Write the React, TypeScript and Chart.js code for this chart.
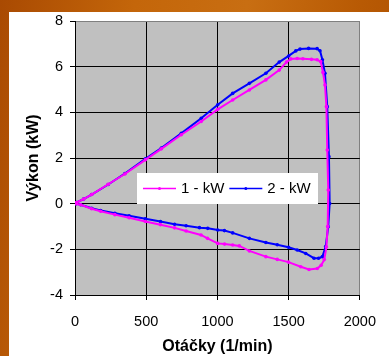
import React, { useEffect, useRef } from "react";
import { Chart, registerables } from "chart.js";

Chart.register(...registerables);

const seriesNames = ["1 - kW", "2 - kW"];
const seriesColors = ["#FF00FF", "#0000FF"];

const s1X = [10, 60, 117, 233, 350, 494, 606, 746, 886, 1002, 1107, 1224, 1340, 1434, 1485, 1515, 1560, 1600, 1660, 1700, 1725, 1741, 1755, 1765, 1771, 1778, 1774, 1765, 1750, 1728, 1701, 1643, 1585, 1499, 1420, 1340, 1224, 1154, 1107, 1050, 1002, 930, 885, 780, 699, 600, 494, 380, 280, 180, 117, 40, 10];
const s1Y = [0.05, 0.2, 0.4, 0.85, 1.3, 1.92, 2.4, 3.02, 3.6, 4.13, 4.54, 4.98, 5.42, 5.85, 6.2, 6.34, 6.36, 6.35, 6.32, 6.3, 6.22, 5.75, 5.2, 4.25, 2.35, 0.6, -1.0, -1.9, -2.45, -2.7, -2.84, -2.88, -2.76, -2.56, -2.44, -2.32, -2.07, -1.85, -1.81, -1.77, -1.74, -1.52, -1.37, -1.2, -1.06, -0.92, -0.78, -0.62, -0.48, -0.33, -0.22, -0.05, 0];

const s2X = [10, 60, 117, 233, 350, 494, 606, 746, 886, 1002, 1107, 1224, 1340, 1434, 1500, 1550, 1580, 1640, 1700, 1720, 1737, 1755, 1771, 1783, 1788, 1778, 1760, 1737, 1710, 1678, 1620, 1560, 1499, 1420, 1340, 1224, 1107, 1049, 1002, 932, 874, 780, 699, 600, 494, 380, 280, 180, 117, 40, 10];
const s2Y = [0.05, 0.2, 0.4, 0.84, 1.32, 1.96, 2.44, 3.08, 3.74, 4.33, 4.83, 5.27, 5.71, 6.2, 6.47, 6.69, 6.77, 6.8, 6.79, 6.7, 6.3, 5.71, 4.25, 2.06, 0.01, -1.01, -1.88, -2.32, -2.39, -2.39, -2.18, -2.03, -1.91, -1.8, -1.7, -1.52, -1.28, -1.18, -1.15, -1.08, -1.05, -0.97, -0.9, -0.78, -0.66, -0.53, -0.42, -0.3, -0.2, -0.05, 0];

const xTicks = [0, 500, 1000, 1500, 2000];
const yTicks = [-4, -2, 0, 2, 4, 6, 8];

const xTitle = "Otáčky (1/min)";
const yTitle = "Výkon (kW)";

const FONT = "'Liberation Sans', Arial, sans-serif";

const plotBgPlugin = {
  id: "plotBg",
  beforeDraw(chart: any) {
    const { ctx, chartArea } = chart;
    ctx.save();
    ctx.fillStyle = "#C0C0C0";
    ctx.fillRect(chartArea.left, chartArea.top, chartArea.right - chartArea.left, chartArea.bottom - chartArea.top);
    ctx.restore();
  },
};

const legendBoxPlugin = {
  id: "legendBox",
  afterDraw(chart: any) {
    const { ctx, chartArea } = chart;
    const left = chartArea.left + 62;
    const top = chartArea.top + 152;
    const w = 181;
    const h = 31;
    ctx.save();
    ctx.fillStyle = "#FFFFFF";
    ctx.fillRect(left, top, w, h);
    ctx.font = `15px ${FONT}`;
    ctx.textBaseline = "middle";
    const cy = top + 15.5;
    let x = left + 6;
    chart.data.datasets.forEach((ds: any) => {
      ctx.strokeStyle = ds.borderColor;
      ctx.lineWidth = 1.5;
      ctx.beginPath();
      ctx.moveTo(x, cy);
      ctx.lineTo(x + 33, cy);
      ctx.stroke();
      ctx.fillStyle = ds.borderColor;
      ctx.beginPath();
      ctx.arc(x + 16.5, cy, 1.5, 0, Math.PI * 2);
      ctx.fill();
      ctx.fillStyle = "#000";
      ctx.fillText(ds.label, x + 38, cy);
      x += 38 + ctx.measureText(ds.label).width + 5;
    });
    ctx.restore();
  },
};

export default function App() {
  const ref = useRef<HTMLCanvasElement | null>(null);

  useEffect(() => {
    document.body.style.margin = "0";
    const canvas = ref.current;
    if (!canvas) return;
    const mk = (xs: number[], ys: number[]) => xs.map((x, i) => ({ x, y: ys[i] }));
    const chart = new Chart(canvas, {
      type: "scatter",
      data: {
        datasets: [
          {
            label: seriesNames[0],
            data: mk(s1X, s1Y),
            borderColor: seriesColors[0],
            backgroundColor: seriesColors[0],
            showLine: true,
            borderWidth: 2,
            pointRadius: 1.8,
            pointBorderWidth: 0,
            tension: 0,
          },
          {
            label: seriesNames[1],
            data: mk(s2X, s2Y),
            borderColor: seriesColors[1],
            backgroundColor: seriesColors[1],
            showLine: true,
            borderWidth: 2,
            pointRadius: 1.8,
            pointBorderWidth: 0,
            tension: 0,
          },
        ],
      },
      options: {
        responsive: false,
        animation: false,
        layout: { padding: { top: 21, right: 28, left: 0, bottom: 0 } },
        plugins: {
          legend: { display: false },
          tooltip: { enabled: false },
        },
        scales: {
          x: {
            type: "linear",
            min: 0,
            max: 2000,
            afterFit(scale: any) {
              scale.height = 61;
            },
            afterBuildTicks(scale: any) {
              scale.ticks = xTicks.map((v) => ({ value: v }));
            },
            ticks: {
              color: "#000",
              font: { family: FONT, size: 14.5 },
              padding: 13,
              maxRotation: 0,
              callback: (v: any) => String(v),
            },
            grid: {
              color: (c: any) => (c.tick && c.tick.value === 2000 ? "#808080" : "#000"),
              tickColor: "#000",
              tickLength: 5,
              lineWidth: 1,
            },
            border: { color: "#000", width: 1 },
            title: {
              display: true,
              text: xTitle,
              color: "#000",
              font: { family: FONT, size: 16, weight: "bold" },
              padding: { top: 0, bottom: 0 },
            },
          },
          y: {
            type: "linear",
            min: -4,
            max: 8,
            afterFit(scale: any) {
              scale.width = 75;
            },
            afterBuildTicks(scale: any) {
              scale.ticks = yTicks.map((v) => ({ value: v }));
            },
            ticks: {
              color: "#000",
              font: { family: FONT, size: 14.5 },
              padding: 7,
              callback: (v: any) => String(v),
            },
            grid: {
              color: (c: any) => (c.tick && c.tick.value === 8 ? "#808080" : "#000"),
              tickColor: "#000",
              tickLength: 5,
              lineWidth: 1,
            },
            border: { color: "#000", width: 1 },
            title: {
              display: true,
              text: yTitle,
              color: "#000",
              font: { family: FONT, size: 16, weight: "bold" },
              padding: { top: 24, bottom: 0 },
            },
          },
        },
      },
      plugins: [plotBgPlugin, legendBoxPlugin],
    });
    return () => chart.destroy();
  }, []);

  return (
    <div
      style={{
        position: "relative",
        width: 389,
        height: 356,
        overflow: "hidden",
        background: "linear-gradient(100deg, #a94a02 0%, #c4660a 30%, #c86e12 55%, #b85a04 80%, #ad4f00 100%)",
      }}
    >
      <div style={{ position: "absolute", left: 9, top: 12, right: 0, bottom: 0, background: "#FFFFFF" }} />
      <canvas ref={ref} width={389} height={356} style={{ position: "absolute", left: 0, top: 0 }} />
    </div>
  );
}
